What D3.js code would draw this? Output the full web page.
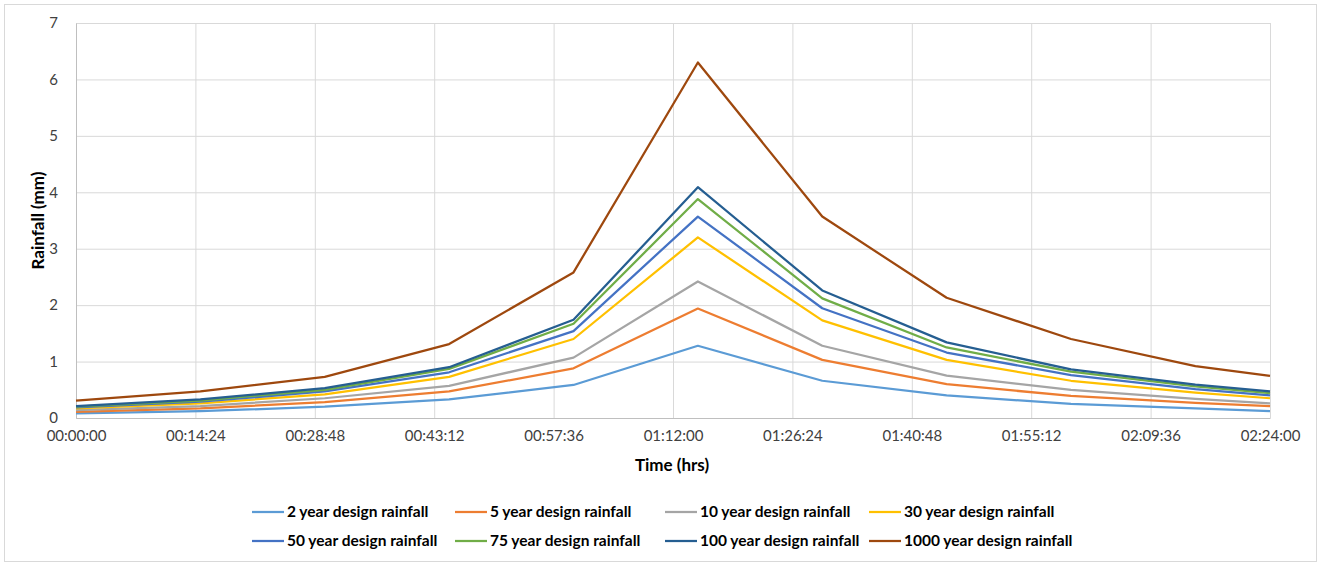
<html>

<head>
  <title>Design rainfall hyetographs</title>
  <script src="https://d3js.org/d3.v7.min.js"></script>

  <style>
    body {
      margin: 0;
      background: white;
    }

    svg text {
      font-family: Lato, "Open Sans", sans-serif;
    }

    .gridlines line {
      stroke: #d9d9d9;
    }

    .gridlines .domain {
      stroke: none;
    }

    .axis .domain {
      stroke: #bfbfbf;
    }

    .axis line {
      stroke: none;
    }

    .axis text {
      fill: #404040;
      font-size: 15px;
    }
  </style>
</head>

<body>
  <svg id="chart" height="565" width="1321"></svg>

  <script>

    // ---- data
    // time of each ordinate, in minutes from the start of the storm
    const times = [0, 15, 30, 45, 60, 75, 90, 105, 120, 135, 144];

    const seriesNames = ["2 year design rainfall", "5 year design rainfall", "10 year design rainfall",
      "30 year design rainfall", "50 year design rainfall", "75 year design rainfall",
      "100 year design rainfall", "1000 year design rainfall"];

    const rain2 = [0.08, 0.12, 0.20, 0.33, 0.585, 1.28, 0.66, 0.40, 0.25, 0.17, 0.12];
    const rain5 = [0.11, 0.17, 0.28, 0.47, 0.88, 1.94, 1.03, 0.60, 0.39, 0.27, 0.21];
    const rain10 = [0.14, 0.21, 0.35, 0.57, 1.07, 2.42, 1.28, 0.75, 0.50, 0.34, 0.26];
    const rain30 = [0.17, 0.26, 0.42, 0.73, 1.40, 3.20, 1.73, 1.03, 0.66, 0.45, 0.35];
    const rain50 = [0.19, 0.29, 0.47, 0.81, 1.54, 3.57, 1.945, 1.16, 0.76, 0.51, 0.40];
    const rain75 = [0.20, 0.31, 0.50, 0.87, 1.67, 3.88, 2.12, 1.25, 0.82, 0.56, 0.44];
    const rain100 = [0.21, 0.33, 0.53, 0.90, 1.74, 4.09, 2.26, 1.34, 0.86, 0.59, 0.47];
    const rain1000 = [0.31, 0.47, 0.73, 1.31, 2.58, 6.30, 3.57, 2.13, 1.40, 0.92, 0.745];

    const seriesValues = [rain2, rain5, rain10, rain30, rain50, rain75, rain100, rain1000];
    const seriesColors = ["#5B9BD5", "#ED7D31", "#A5A5A5", "#FFC000", "#4472C4", "#70AD47", "#255E91", "#9E480E"];

    // tick values: every 14:24 (0.01 day) and 0..7 mm
    const xTicks = d3.range(0, 11).map(i => i * 14.4);
    const yTicks = [0, 1, 2, 3, 4, 5, 6, 7];


    // ---- chart setup
    const svg = d3.select("svg#chart");

    const width = svg.attr("width");
    const height = svg.attr("height");
    const margin = { top: 23, right: 51, bottom: 147, left: 76 };

    const chartWidth = width - margin.left - margin.right;
    const chartHeight = height - margin.top - margin.bottom;

    // outer chart border
    svg.append("rect")
      .attr("x", 4.5).attr("y", 4.5)
      .attr("width", 1312).attr("height", 557)
      .attr("fill", "white")
      .attr("stroke", "#d9d9d9");

    let annotations = svg.append("g").attr("id", "annotations");
    let chartArea = svg.append("g").attr("id", "lines")
      .attr("transform", `translate(${margin.left},${margin.top})`);

    // scales
    const xScale = d3.scaleLinear().domain([0, 144]).range([0, chartWidth]);
    const yScale = d3.scaleLinear().domain([0, 7]).range([chartHeight, 0]);

    // format minutes as hh:mm:ss
    function hms(m) {
      let s = Math.round(m * 60);
      let pad = v => String(v).padStart(2, "0");
      return `${pad(Math.floor(s / 3600))}:${pad(Math.floor(s / 60) % 60)}:${pad(s % 60)}`;
    }

    // gridlines
    annotations.append("g")
      .attr("class", "y gridlines")
      .attr("transform", `translate(${margin.left}, ${margin.top})`)
      .call(d3.axisLeft(yScale).tickValues(yTicks).tickFormat("").tickSize(-chartWidth));
    annotations.append("g")
      .attr("class", "x gridlines")
      .attr("transform", `translate(${margin.left}, ${margin.top + chartHeight})`)
      .call(d3.axisBottom(xScale).tickValues(xTicks).tickFormat("").tickSize(-chartHeight));

    // axes
    let leftAxis = d3.axisLeft(yScale).tickValues(yTicks).tickSize(0).tickPadding(18).tickFormat(d3.format("d"));
    annotations.append("g")
      .attr("class", "y axis")
      .attr("transform", `translate(${margin.left}, ${margin.top})`)
      .call(leftAxis);

    let bottomAxis = d3.axisBottom(xScale).tickValues(xTicks).tickSize(0).tickPadding(12).tickFormat(hms);
    annotations.append("g")
      .attr("class", "x axis")
      .attr("transform", `translate(${margin.left}, ${margin.top + chartHeight})`)
      .call(bottomAxis);

    // axis titles
    annotations.append("text")
      .attr("x", margin.left + chartWidth / 2 - 1)
      .attr("y", 471)
      .attr("text-anchor", "middle")
      .style("font-size", "17px")
      .style("font-weight", "bold")
      .text("Time (hrs)");

    annotations.append("text")
      .attr("transform", `translate(44, ${margin.top + chartHeight / 2}) rotate(-90)`)
      .attr("text-anchor", "middle")
      .style("font-size", "17px")
      .style("font-weight", "bold")
      .text("Rainfall (mm)");


    // ---- lines
    const line = d3.line()
      .x((d, i) => xScale(times[i]))
      .y(d => yScale(d));

    seriesValues.forEach((vals, k) => {
      chartArea.append("path")
        .datum(vals)
        .attr("d", line)
        .attr("fill", "none")
        .attr("stroke", seriesColors[k])
        .attr("stroke-width", 2.25)
        .attr("stroke-linejoin", "round");
    });


    // ---- legend: 2 rows of 4
    const legendCols = [252, 455, 665, 869];
    const legendRows = [512, 541];
    let legend = svg.append("g").attr("id", "legend");

    seriesNames.forEach((name, k) => {
      let lx = legendCols[k % 4];
      let ly = legendRows[Math.floor(k / 4)];
      legend.append("line")
        .attr("x1", lx).attr("x2", lx + 32)
        .attr("y1", ly).attr("y2", ly)
        .attr("stroke", seriesColors[k])
        .attr("stroke-width", 2.25);
      legend.append("text")
        .attr("x", lx + 35)
        .attr("y", ly)
        .attr("dy", "0.35em")
        .style("font-size", "15.5px")
        .style("font-weight", "bold")
        .style("fill", "#000")
        .text(name);
    });

  </script>
</body>

</html>
